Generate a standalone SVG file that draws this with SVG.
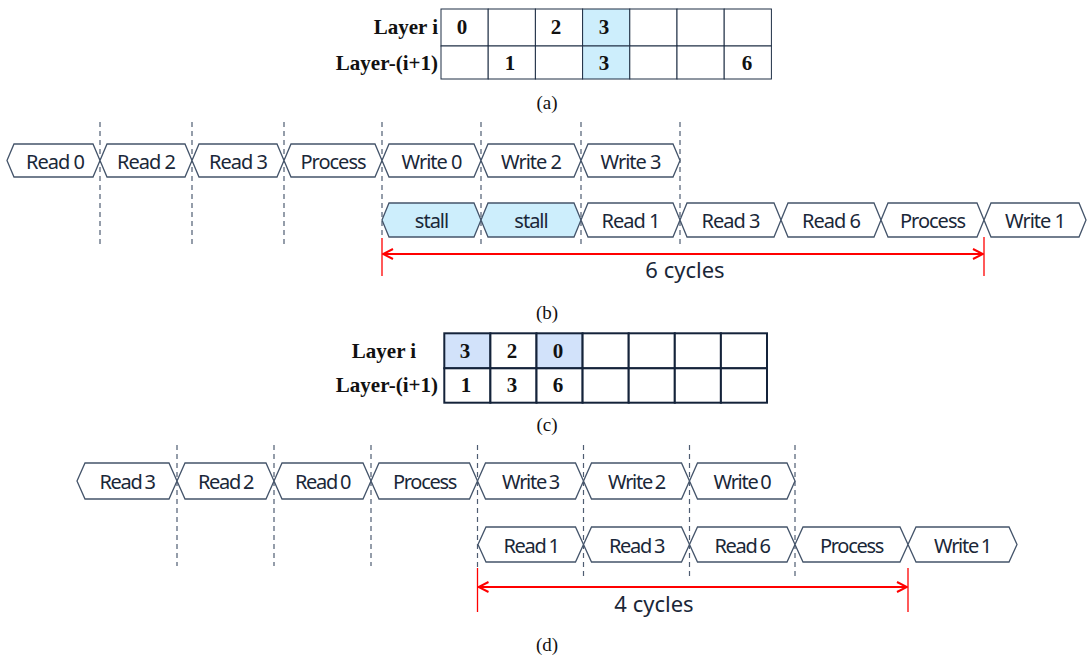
<svg xmlns="http://www.w3.org/2000/svg" width="1088" height="658" viewBox="0 0 1088 658">
<defs>
<style>
.bg{fill:#ffffff}
.cell{fill:#ffffff;stroke:#1f2f45;stroke-width:1}
.cellA{fill:#cdeefc;stroke:#1f2f45;stroke-width:1}
.cellC{fill:#ffffff;stroke:#14233a;stroke-width:2}
.cellCh{fill:#d2e2fa;stroke:#14233a;stroke-width:2}
.tb{font-family:"Liberation Serif","Times New Roman",serif;font-weight:bold;font-size:21px;fill:#111}
.num{font-family:"Liberation Serif","Times New Roman",serif;font-weight:bold;font-size:21px;fill:#111;text-anchor:middle}
.cap{font-family:"Liberation Serif","Times New Roman",serif;font-size:19px;fill:#111;text-anchor:middle}
.hex{fill:#ffffff;stroke:#44546a;stroke-width:1.3}
.hexs{fill:#cdeefc;stroke:#44546a;stroke-width:1.3}
.lbl{font-family:"Noto Sans","Open Sans",sans-serif;font-size:20px;fill:#1a2738;text-anchor:middle;letter-spacing:-1px}
.lbld{font-family:"Noto Sans","Open Sans",sans-serif;font-size:20px;fill:#1a2738;text-anchor:middle;letter-spacing:-1.3px;word-spacing:-1px}
.dash{stroke:#4f5d72;stroke-width:1.2;stroke-dasharray:5,4;fill:none}
.red{stroke:#ff0000;stroke-width:1.3;fill:none}
.redl{stroke:#ff0000;stroke-width:2.2;fill:none}
.cyc{font-family:"Noto Sans","Open Sans",sans-serif;font-size:22px;fill:#1a2738;text-anchor:middle}
</style>
<marker id="ah" viewBox="0 0 12 12" refX="11" refY="6" markerWidth="12" markerHeight="12" markerUnits="userSpaceOnUse" orient="auto-start-reverse">
<path d="M1,1 L11,6 L1,11" fill="none" stroke="#ff0000" stroke-width="2"/>
</marker>
</defs>
<rect class="bg" x="0" y="0" width="1088" height="658"/>

<!-- (a) table -->
<g id="tableA">
<text class="tb" x="438" y="34" text-anchor="end">Layer i</text>
<text class="tb" x="438" y="70" text-anchor="end">Layer-(i+1)</text>
<rect class="cell" x="441" y="9" width="47.2" height="37"/>
<rect class="cell" x="488.2" y="9" width="47.2" height="37"/>
<rect class="cell" x="535.4" y="9" width="47.2" height="37"/>
<rect class="cellA" x="582.6" y="9" width="47.2" height="37"/>
<rect class="cell" x="629.8" y="9" width="47.2" height="37"/>
<rect class="cell" x="677" y="9" width="47.2" height="37"/>
<rect class="cell" x="724.2" y="9" width="47.2" height="37"/>
<rect class="cell" x="441" y="46" width="47.2" height="33"/>
<rect class="cell" x="488.2" y="46" width="47.2" height="33"/>
<rect class="cell" x="535.4" y="46" width="47.2" height="33"/>
<rect class="cellA" x="582.6" y="46" width="47.2" height="33"/>
<rect class="cell" x="629.8" y="46" width="47.2" height="33"/>
<rect class="cell" x="677" y="46" width="47.2" height="33"/>
<rect class="cell" x="724.2" y="46" width="47.2" height="33"/>
<text class="num" x="462" y="34">0</text>
<text class="num" x="556" y="34">2</text>
<text class="num" x="604" y="34">3</text>
<text class="num" x="510" y="70">1</text>
<text class="num" x="604" y="70">3</text>
<text class="num" x="747" y="70">6</text>
</g>
<text class="cap" x="547" y="109">(a)</text>

<!-- (b) connectors / guides -->
<g id="guidesB">
<line class="dash" x1="100" y1="122" x2="100" y2="246"/>
<line class="dash" x1="192" y1="122" x2="192" y2="246"/>
<line class="dash" x1="284" y1="122" x2="284" y2="246"/>
<line class="dash" x1="382" y1="122" x2="382" y2="238"/>
<line class="dash" x1="481" y1="122" x2="481" y2="246"/>
<line class="dash" x1="581" y1="122" x2="581" y2="246"/>
<line class="dash" x1="680" y1="122" x2="680" y2="246"/>
<line class="red" x1="382" y1="238" x2="382" y2="276"/>
<line class="red" x1="984" y1="237" x2="984" y2="276"/>
<line class="redl" x1="383" y1="254" x2="983" y2="254" marker-start="url(#ah)" marker-end="url(#ah)"/>
</g>

<g id="b1-read0"><polygon class="hex" points="7,160.5 14,144 93,144 100,160.5 93,177 14,177"/><text class="lbl" x="55" y="168.5">Read 0</text></g>
<g id="b1-read2"><polygon class="hex" points="100,160.5 107,144 185,144 192,160.5 185,177 107,177"/><text class="lbl" x="146" y="168.5">Read 2</text></g>
<g id="b1-read3"><polygon class="hex" points="192,160.5 199,144 277,144 284,160.5 277,177 199,177"/><text class="lbl" x="238" y="168.5">Read 3</text></g>
<g id="b1-process"><polygon class="hex" points="284,160.5 291,144 375,144 382,160.5 375,177 291,177"/><text class="lbl" x="333" y="168.5">Process</text></g>
<g id="b1-write0"><polygon class="hex" points="382,160.5 389,144 474,144 481,160.5 474,177 389,177"/><text class="lbl" x="431.5" y="168.5">Write 0</text></g>
<g id="b1-write2"><polygon class="hex" points="481,160.5 488,144 574,144 581,160.5 574,177 488,177"/><text class="lbl" x="531" y="168.5">Write 2</text></g>
<g id="b1-write3"><polygon class="hex" points="581,160.5 588,144 673,144 680,160.5 673,177 588,177"/><text class="lbl" x="630.5" y="168.5">Write 3</text></g>

<g id="b2-stall1"><polygon class="hexs" points="382,220 389,203 474,203 481,220 474,237 389,237"/><text class="lbl" x="431.5" y="227.5">stall</text></g>
<g id="b2-stall2"><polygon class="hexs" points="481,220 488,203 574,203 581,220 574,237 488,237"/><text class="lbl" x="531" y="227.5">stall</text></g>
<g id="b2-read1"><polygon class="hex" points="581,220 588,203 673,203 680,220 673,237 588,237"/><text class="lbl" x="630.5" y="227.5">Read 1</text></g>
<g id="b2-read3"><polygon class="hex" points="680,220 687,203 774,203 781,220 774,237 687,237"/><text class="lbl" x="730.5" y="227.5">Read 3</text></g>
<g id="b2-read6"><polygon class="hex" points="781,220 788,203 874,203 881,220 874,237 788,237"/><text class="lbl" x="831" y="227.5">Read 6</text></g>
<g id="b2-process"><polygon class="hex" points="881,220 888,203 977,203 984,220 977,237 888,237"/><text class="lbl" x="932.5" y="227.5">Process</text></g>
<g id="b2-write1"><polygon class="hex" points="984,220 991,203 1079,203 1086,220 1079,237 991,237"/><text class="lbl" x="1035" y="227.5">Write 1</text></g>
<text class="cyc" x="685" y="278">6 cycles</text>
<text class="cap" x="547" y="319">(b)</text>

<!-- (c) table -->
<g id="tableC">
<text class="tb" x="384" y="358" text-anchor="middle">Layer i</text>
<text class="tb" x="438" y="392" text-anchor="end">Layer-(i+1)</text>
<rect class="cellCh" x="444.3" y="333.3" width="46.1" height="35"/>
<rect class="cellC" x="490.4" y="333.3" width="46.1" height="35"/>
<rect class="cellCh" x="536.5" y="333.3" width="46.1" height="35"/>
<rect class="cellC" x="582.6" y="333.3" width="46.1" height="35"/>
<rect class="cellC" x="628.7" y="333.3" width="46.1" height="35"/>
<rect class="cellC" x="674.8" y="333.3" width="46.1" height="35"/>
<rect class="cellC" x="720.9" y="333.3" width="46.1" height="35"/>
<rect class="cellC" x="444.3" y="368.3" width="46.1" height="34.4"/>
<rect class="cellC" x="490.4" y="368.3" width="46.1" height="34.4"/>
<rect class="cellC" x="536.5" y="368.3" width="46.1" height="34.4"/>
<rect class="cellC" x="582.6" y="368.3" width="46.1" height="34.4"/>
<rect class="cellC" x="628.7" y="368.3" width="46.1" height="34.4"/>
<rect class="cellC" x="674.8" y="368.3" width="46.1" height="34.4"/>
<rect class="cellC" x="720.9" y="368.3" width="46.1" height="34.4"/>
<text class="num" x="465" y="358">3</text>
<text class="num" x="512" y="358">2</text>
<text class="num" x="558" y="358">0</text>
<text class="num" x="466" y="392">1</text>
<text class="num" x="512" y="392">3</text>
<text class="num" x="558" y="392">6</text>
</g>
<text class="cap" x="547" y="431">(c)</text>

<!-- (d) connectors / guides -->
<g id="guidesD">
<line class="dash" x1="177" y1="445" x2="177" y2="566"/>
<line class="dash" x1="274" y1="445" x2="274" y2="566"/>
<line class="dash" x1="371" y1="445" x2="371" y2="566"/>
<line class="dash" x1="477.5" y1="445" x2="477.5" y2="568"/>
<line class="dash" x1="583.5" y1="445" x2="583.5" y2="580"/>
<line class="dash" x1="689.5" y1="445" x2="689.5" y2="580"/>
<line class="dash" x1="795" y1="445" x2="795" y2="580"/>
<line class="red" x1="477.5" y1="568" x2="477.5" y2="612"/>
<line class="red" x1="908" y1="568" x2="908" y2="612"/>
<line class="redl" x1="478.5" y1="587" x2="907" y2="587" marker-start="url(#ah)" marker-end="url(#ah)"/>
</g>

<g id="d1-read3"><polygon class="hex" points="77,481 85,463 169,463 177,481 169,499 85,499"/><text class="lbld" x="127" y="489">Read 3</text></g>
<g id="d1-read2"><polygon class="hex" points="177,481 185,463 266,463 274,481 266,499 185,499"/><text class="lbld" x="225.5" y="489">Read 2</text></g>
<g id="d1-read0"><polygon class="hex" points="274,481 282,463 363,463 371,481 363,499 282,499"/><text class="lbld" x="322.5" y="489">Read 0</text></g>
<g id="d1-process"><polygon class="hex" points="371,481 379,463 469.5,463 477.5,481 469.5,499 379,499"/><text class="lbld" x="424.5" y="489">Process</text></g>
<g id="d1-write3"><polygon class="hex" points="477.5,481 485.5,463 575.5,463 583.5,481 575.5,499 485.5,499"/><text class="lbld" x="530.5" y="489">Write 3</text></g>
<g id="d1-write2"><polygon class="hex" points="583.5,481 591.5,463 681.5,463 689.5,481 681.5,499 591.5,499"/><text class="lbld" x="636.5" y="489">Write 2</text></g>
<g id="d1-write0"><polygon class="hex" points="689.5,481 697.5,463 787,463 795,481 787,499 697.5,499"/><text class="lbld" x="742" y="489">Write 0</text></g>

<g id="d2-read1"><polygon class="hex" points="478,544.5 486,527 575.5,527 583.5,544.5 575.5,562 486,562"/><text class="lbld" x="531" y="552.5">Read 1</text></g>
<g id="d2-read3"><polygon class="hex" points="583.5,544.5 591.5,527 681.5,527 689.5,544.5 681.5,562 591.5,562"/><text class="lbld" x="636.5" y="552.5">Read 3</text></g>
<g id="d2-read6"><polygon class="hex" points="689.5,544.5 697.5,527 787,527 795,544.5 787,562 697.5,562"/><text class="lbld" x="742" y="552.5">Read 6</text></g>
<g id="d2-process"><polygon class="hex" points="795,544.5 803,527 900,527 908,544.5 900,562 803,562"/><text class="lbld" x="851.5" y="552.5">Process</text></g>
<g id="d2-write1"><polygon class="hex" points="908,544.5 916,527 1009,527 1017,544.5 1009,562 916,562"/><text class="lbld" x="962.5" y="552.5">Write 1</text></g>
<text class="cyc" x="654" y="612">4 cycles</text>
<text class="cap" x="547" y="651">(d)</text>
</svg>
